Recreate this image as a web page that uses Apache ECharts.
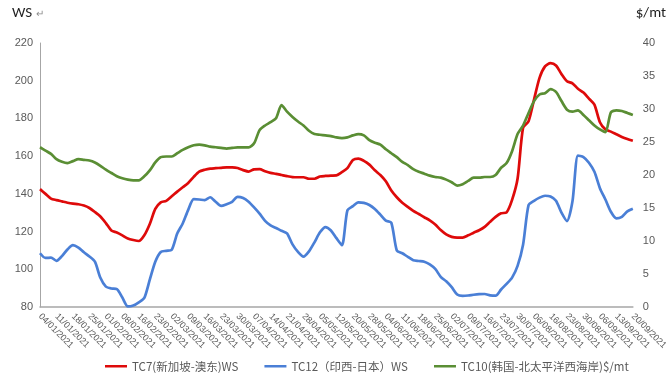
<!DOCTYPE html>
<html>
<head>
<meta charset="utf-8">
<script src="https://cdn.jsdelivr.net/npm/echarts@6/dist/echarts.min.js"></script>
<style>
html,body{margin:0;padding:0;background:#fff;}
#c{width:670px;height:380px;}
</style>
</head>
<body>
<div id="c"></div>
<script>
// Tick labels (weekly), data points: 3 per tick interval
const tickLabels = ["04/01/2021","11/01/2021","18/01/2021","25/01/2021","01/02/2021","08/02/2021","16/02/2021","23/02/2021","02/03/2021","09/03/2021","16/03/2021","23/03/2021","30/03/2021","07/04/2021","14/04/2021","21/04/2021","28/04/2021","05/05/2021","12/05/2021","20/05/2021","28/05/2021","04/06/2021","11/06/2021","18/06/2021","25/06/2021","02/07/2021","09/07/2021","16/07/2021","23/07/2021","30/07/2021","06/08/2021","16/08/2021","23/08/2021","30/08/2021","06/09/2021","13/09/2021","20/09/2021"];

const seriesNames = ["TC7(新加坡-澳东)WS","TC12（印西-日本）WS","TC10(韩国-北太平洋西海岸)$/mt"];

const tc7 = [142.5,140,137.5,136.7,136,135.3,134.8,134.5,133.8,132.5,130.4,128,124.5,120.6,119.5,118,116.3,115.5,115,118,124,132,135.5,136.3,138.7,141.2,143.5,145.8,149,151.8,152.8,153.4,153.6,153.8,154,154,153.7,152.6,151.8,153,153.1,152,151.1,150.6,150,149.4,148.9,148.8,148.8,148,148,149.2,149.5,149.7,149.8,151.5,153.6,158,158.7,157.5,155.5,152.5,150,146.7,141.8,138.2,135.3,133.1,131,129.3,127.6,126,123.8,120.8,118.5,117.2,116.8,116.8,118,119.4,120.7,122.5,125.2,127.8,129.7,130.2,136.8,148,175,178.5,190,201.5,207.6,209.3,208.1,203.5,199.7,198.6,195.7,193.7,190.5,187.3,178,174.2,173,171.6,170.2,169.1,168.2];

const tc12 = [108.5,106,106.2,104.5,107,110.5,112.8,111.5,109,106.8,104,95.5,90.8,89.8,89.5,85,80.3,80.8,82.5,84.8,94.5,104,109.2,109.8,110.4,119,124.3,131.5,137.2,137,136.7,138.2,135.8,133.6,134.5,135.8,138.4,137.8,135.8,132.8,129.5,125.7,123.3,121.9,120.4,119,113.2,109.2,106.7,109.5,114.3,119.6,122.4,120.6,116.5,112.8,131.2,133.5,135.5,135.2,134.1,132,129,125.8,124.7,110,108.5,106.6,104.8,104.4,104,102.6,100.2,96,93.6,90.5,86.6,85.9,86.1,86.5,86.8,86.9,86.2,86,89.3,92.3,95.6,101.8,113,134,136.3,138,139,138.6,136.3,130,125.5,136,160.3,159.5,156.5,151.7,143,137,130.5,127,127.8,130.7,132.1];

const tc10 = [24.2,23.7,23.2,22.4,22,21.8,22.1,22.4,22.3,22.2,21.9,21.4,20.8,20.3,19.8,19.5,19.3,19.2,19.2,19.8,20.7,21.9,22.7,22.8,22.8,23.3,23.8,24.2,24.5,24.6,24.5,24.3,24.2,24.1,24,24.1,24.2,24.2,24.2,24.8,26.8,27.5,28,28.6,30.6,29.6,28.8,28.1,27.5,26.7,26.2,26.1,26,25.9,25.7,25.6,25.7,26,26.2,26,25.3,24.9,24.6,23.9,23.3,22.7,22,21.5,20.9,20.5,20.2,19.9,19.7,19.6,19.3,18.9,18.4,18.6,19.1,19.6,19.6,19.7,19.7,20,21.1,21.8,23.6,26.2,27.5,29.4,31.2,32.2,32.4,33,32.6,31.2,29.9,29.6,29.8,29.1,28.3,27.5,26.9,26.5,29.5,29.8,29.7,29.4,29.1];

// categories: each tick label followed by two intermediate (unlabelled) points
const categories = [];
tickLabels.forEach((t, i) => {
  categories.push(t);
  if (i < tickLabels.length - 1) { categories.push(t + '#1'); categories.push(t + '#2'); }
});

const colors = ['#de0a0a', '#4a7fd6', '#5a8e34'];
const labelColor = '#595959';

const chart = echarts.init(document.getElementById('c'), null, {renderer: 'canvas'});
chart.setOption({
  animation: false,
  backgroundColor: '#fff',
  color: colors,
  grid: {left: 40, right: 35, top: 43, bottom: 73, containLabel: false},
  graphic: [
    {type: 'text', left: 12, top: 6, style: {text: 'WS', fontSize: 15, fontFamily: 'Calibri, "Liberation Sans", Arial, sans-serif', fill: '#1f1f1f'}},
    {type: 'text', left: 36, top: 9, style: {text: '↵', fontSize: 10, fill: '#8c8c8c'}},
    {type: 'text', right: 4, top: 6, style: {text: '$/mt', fontSize: 15, fontFamily: 'Calibri, "Liberation Sans", Arial, sans-serif', fill: '#1f1f1f'}}
  ],
  legend: {
    bottom: 3,
    left: 100,
    icon: 'rect',
    itemWidth: 22,
    itemHeight: 2.5,
    itemGap: 26,
    textStyle: {color: labelColor, fontSize: 11.5, fontFamily: '"Noto Sans CJK SC", sans-serif'},
    data: seriesNames
  },
  xAxis: {
    type: 'category',
    data: categories,
    boundaryGap: false,
    axisLine: {show: true, lineStyle: {color: '#a6a6a6', width: 1.5}},
    axisTick: {show: false},
    axisLabel: {
      interval: 2,
      rotate: -45,
      fontSize: 9,
      color: labelColor,
      margin: 8
    },
    splitLine: {show: false}
  },
  yAxis: [
    {
      type: 'value', min: 80, max: 220, interval: 20,
      axisLine: {show: true, lineStyle: {color: '#a6a6a6', width: 1}},
      axisTick: {show: false},
      splitLine: {show: false},
      axisLabel: {fontSize: 11, color: labelColor, margin: 7}
    },
    {
      type: 'value', min: 0, max: 40, interval: 5,
      position: 'right',
      axisLine: {show: false},
      axisTick: {show: false},
      splitLine: {show: false},
      axisLabel: {fontSize: 11, color: labelColor, margin: 10}
    }
  ],
  series: [
    {name: seriesNames[0], type: 'line', yAxisIndex: 0, data: tc7, showSymbol: false, smooth: 0.25, lineStyle: {width: 2.7, color: colors[0]}},
    {name: seriesNames[1], type: 'line', yAxisIndex: 0, data: tc12, showSymbol: false, smooth: 0.25, lineStyle: {width: 2.7, color: colors[1]}},
    {name: seriesNames[2], type: 'line', yAxisIndex: 1, data: tc10, showSymbol: false, smooth: 0.25, lineStyle: {width: 2.7, color: colors[2]}}
  ]
});
</script>
</body>
</html>
